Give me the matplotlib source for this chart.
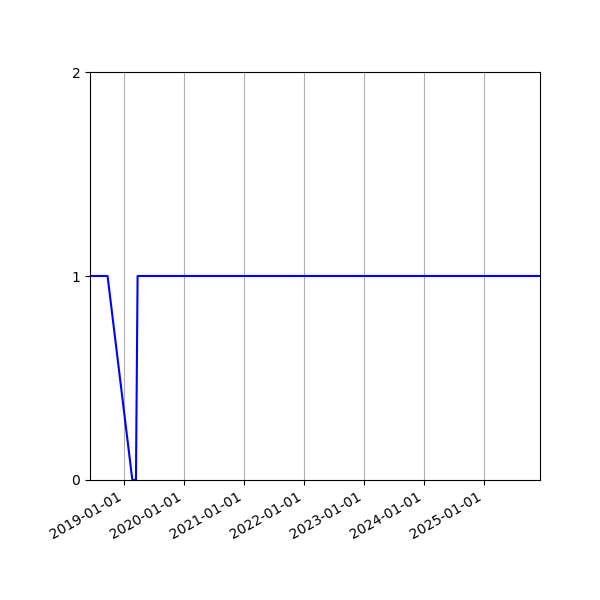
import numpy as np
import pandas as pd
import matplotlib
matplotlib.use("Agg")
import matplotlib.pyplot as plt
import matplotlib.dates as mdates

# dados
datas = pd.to_datetime(["2018-06-08", "2018-09-23", "2019-02-21",
                        "2019-03-15", "2019-03-25", "2025-12-10"])
valores = [1, 1, 0, 0, 1, 1]
anos_ticks = pd.to_datetime([f"{a}-01-01" for a in range(2019, 2026)])

fig, ax = plt.subplots(figsize=(6, 6), dpi=100)
ax.plot(datas, valores, color="blue", linewidth=1.5)

ax.set_xlim(datas[0], datas[-1])
ax.set_ylim(0, 2)
ax.set_yticks([0, 1, 2])
ax.set_xticks(anos_ticks)
ax.xaxis.set_major_formatter(mdates.DateFormatter("%Y-%m-%d"))
ax.grid(True, axis="x")

fig.autofmt_xdate()
fig.subplots_adjust(left=0.15, right=0.9, top=0.88, bottom=0.2)
fig.savefig("out.png", dpi=100)
